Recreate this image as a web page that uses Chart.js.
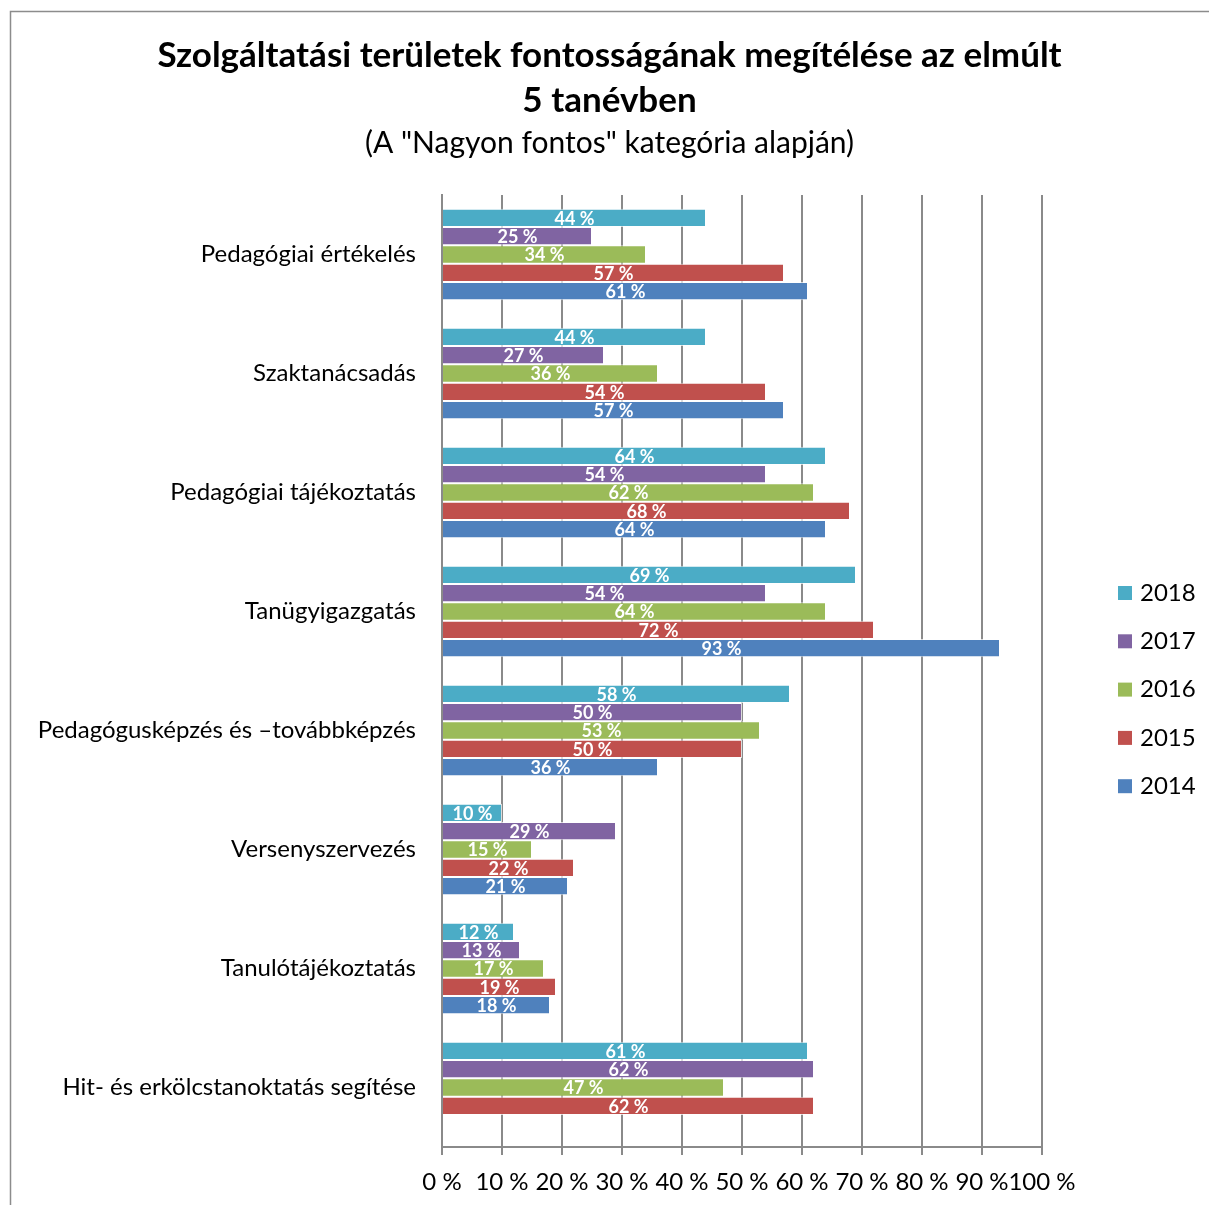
<!DOCTYPE html>
<html lang="hu">
<head>
    <meta charset="UTF-8">
    <title>Szolgáltatási területek fontossága</title>
    <script src="https://cdn.jsdelivr.net/npm/chart.js"></script>
    <style>
        body { margin: 0; background: #fff; }
    </style>
</head>
<body>
    <canvas id="chart" width="1209" height="1205"></canvas>

    <script>
        // Adatok
        const categories = [
            "Pedagógiai értékelés",
            "Szaktanácsadás",
            "Pedagógiai tájékoztatás",
            "Tanügyigazgatás",
            "Pedagógusképzés és –továbbképzés",
            "Versenyszervezés",
            "Tanulótájékoztatás",
            "Hit- és erkölcstanoktatás segítése"
        ];
        const years = ["2018", "2017", "2016", "2015", "2014"];
        const values2018 = [44, 44, 64, 69, 58, 10, 12, 61];
        const values2017 = [25, 27, 54, 54, 50, 29, 13, 62];
        const values2016 = [34, 36, 62, 64, 53, 15, 17, 47];
        const values2015 = [57, 54, 68, 72, 50, 22, 19, 62];
        const values2014 = [61, 57, 64, 93, 36, 21, 18, null];
        const colors = ["#4BACC6", "#8064A2", "#9BBB59", "#C0504D", "#4F81BD"];
        const xTicks = [0, 10, 20, 30, 40, 50, 60, 70, 80, 90, 100];

        const FONT = "Lato, 'Open Sans', sans-serif";
        const allValues = [values2018, values2017, values2016, values2015, values2014];

        // white background + frame
        const framePlugin = {
            id: "frame",
            beforeDraw(chart) {
                const ctx = chart.ctx;
                ctx.save();
                ctx.fillStyle = "#fff";
                ctx.fillRect(0, 0, chart.width, chart.height);
                ctx.strokeStyle = "#8c8c8c";
                ctx.lineWidth = 1.5;
                ctx.strokeRect(10.5, 11.5, chart.width + 20, chart.height + 20);
                ctx.restore();
            }
        };

        // value labels inside the bars
        const barLabels = {
            id: "barLabels",
            afterDatasetsDraw(chart) {
                const ctx = chart.ctx;
                ctx.save();
                ctx.font = "bold 18px " + FONT;
                ctx.fillStyle = "#fff";
                ctx.textAlign = "center";
                ctx.textBaseline = "middle";
                chart.data.datasets.forEach((ds, i) => {
                    const meta = chart.getDatasetMeta(i);
                    meta.data.forEach((bar, j) => {
                        const v = ds.data[j];
                        if (v === null || v === undefined) return;
                        ctx.fillText(v + " %", (bar.x + bar.base) / 2, bar.y + 1);
                    });
                });
                ctx.restore();
            }
        };

        // legend on the right (drawn inside the empty right-hand axis box)
        const sideLegend = {
            id: "sideLegend",
            afterDraw(chart) {
                const ctx = chart.ctx;
                ctx.save();
                ctx.font = "24px " + FONT;
                ctx.textBaseline = "middle";
                chart.data.datasets.forEach((ds, i) => {
                    const y = 593 + i * 48.3;
                    ctx.fillStyle = ds.backgroundColor;
                    ctx.fillRect(1118, y - 7, 14, 14);
                    ctx.fillStyle = "#000";
                    ctx.fillText(ds.label, 1140, y);
                });
                ctx.restore();
            }
        };

        const ctx = document.getElementById("chart").getContext("2d");
        new Chart(ctx, {
            type: "bar",
            data: {
                labels: categories,
                datasets: years.map((y, i) => ({
                    label: y,
                    data: allValues[i],
                    xAxisID: "x",
                    yAxisID: "y",
                    backgroundColor: colors[i],
                    borderColor: "rgba(255,255,255,0.7)",
                    borderWidth: 1,
                    categoryPercentage: 0.77,
                    barPercentage: 1
                }))
            },
            options: {
                indexAxis: "y",
                responsive: false,
                animation: false,
                layout: {
                    padding: { left: 10, top: 11, right: 0, bottom: 0 }
                },
                plugins: {
                    legend: { display: false },
                    tooltip: { enabled: false },
                    title: {
                        display: true,
                        text: ["Szolgáltatási területek fontosságának megítélése az elmúlt", "5 tanévben"],
                        color: "#000",
                        font: { family: FONT, size: 35, weight: "bold", lineHeight: 1.286 },
                        padding: { top: 22.5, bottom: 1.5 }
                    },
                    subtitle: {
                        display: true,
                        text: "(A \"Nagyon fontos\" kategória alapján)",
                        color: "#000",
                        font: { family: FONT, size: 30, lineHeight: 1.2 },
                        padding: { top: 0, bottom: 34 }
                    }
                },
                scales: {
                    x: {
                        min: 0,
                        max: 100,
                        afterBuildTicks: scale => {
                            scale.ticks = xTicks.map(v => ({ value: v }));
                        },
                        afterFit: scale => { scale.height = 58; },
                        grid: {
                            color: "#8a8a8a",
                            lineWidth: 2,
                            drawTicks: true,
                            tickLength: 8
                        },
                        border: { color: "#8a8a8a", width: 2 },
                        ticks: {
                            autoSkip: false,
                            maxRotation: 0,
                            padding: 13,
                            color: "#000",
                            font: { family: FONT, size: 24 },
                            callback: v => v + " %"
                        }
                    },
                    y: {
                        position: "left",
                        afterFit: scale => { scale.width = 432; },
                        grid: { display: false, drawTicks: false },
                        border: { display: true, color: "#8a8a8a", width: 2 },
                        ticks: {
                            padding: 26,
                            color: "#000",
                            font: { family: FONT, size: 24 }
                        }
                    },
                    // empty axis on the right, only reserves room for the legend
                    legendSpace: {
                        axis: "y",
                        type: "category",
                        position: "right",
                        afterFit: scale => { scale.width = 167; },
                        grid: { display: false, drawTicks: false },
                        border: { display: false },
                        ticks: { display: false }
                    }
                }
            },
            plugins: [framePlugin, barLabels, sideLegend]
        });
    </script>
</body>
</html>
